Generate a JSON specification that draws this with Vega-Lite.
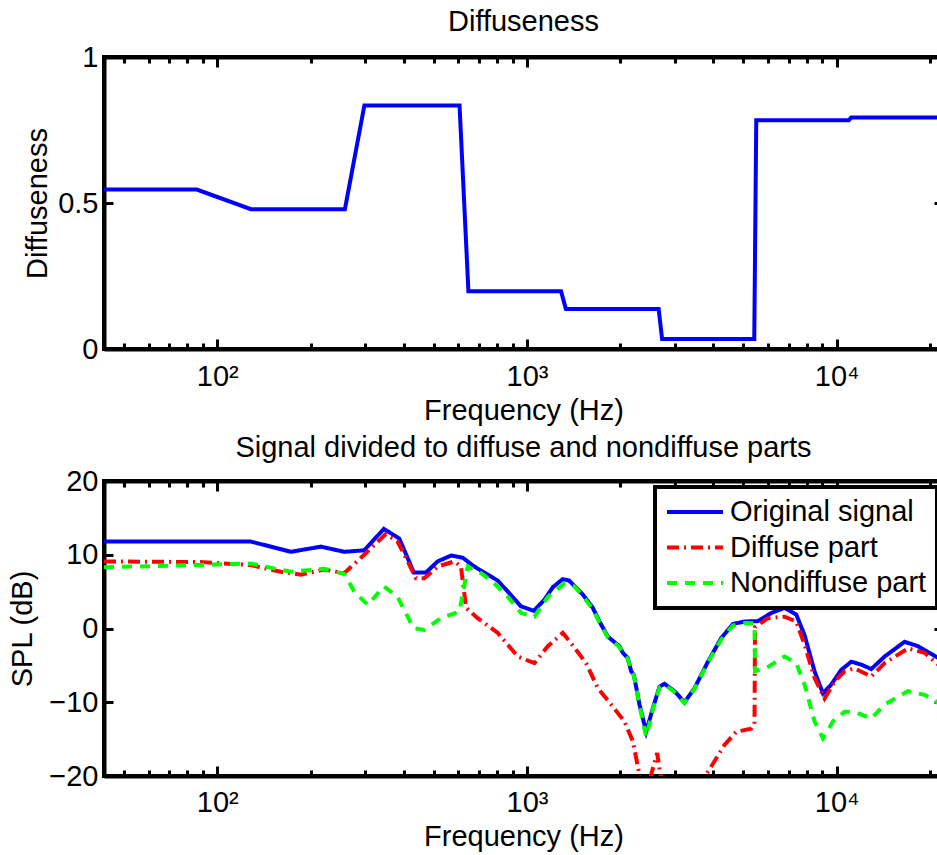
{
  "$schema": "https://vega.github.io/schema/vega-lite/v6.json",
  "background": "white",
  "padding": {"left": 6, "top": 6, "right": 0, "bottom": 0},
  "spacing": 5,
  "config": {
    "font": "Liberation Sans",
    "view": {"stroke": "black", "strokeWidth": 4},
    "axis": {
      "domainColor": "black", "domainWidth": 4, "tickColor": "black", "tickWidth": 3,
      "labelFont": "Liberation Sans", "labelFontSize": 29, "labelColor": "black",
      "titleFont": "Liberation Sans", "titleFontSize": 29, "titleFontWeight": "normal", "titleColor": "black",
      "grid": false, "labelFlush": false, "labelOverlap": false
    },
    "title": {"font": "Liberation Sans", "fontSize": 29, "fontWeight": "normal", "color": "black", "frame": "group", "offset": 6},
    "legend": {"labelFont": "Liberation Sans", "labelFontSize": 29, "labelColor": "black", "strokeWidth": 4}
  },
  "vconcat": [
    {
      "title": {"text": "Diffuseness", "offset": 6},
      "width": 839,
      "height": 292,
      "data": {"values": [
        {"f": 43.07, "d": 0.546}, {"f": 85.9, "d": 0.546}, {"f": 128.4, "d": 0.479}, {"f": 258.3, "d": 0.479},
        {"f": 298.5, "d": 0.834}, {"f": 605.7, "d": 0.834}, {"f": 647, "d": 0.198}, {"f": 1288, "d": 0.198},
        {"f": 1336, "d": 0.137}, {"f": 2662, "d": 0.137}, {"f": 2731, "d": 0.034}, {"f": 5420, "d": 0.034},
        {"f": 5500, "d": 0.783}, {"f": 10950, "d": 0.783}, {"f": 11140, "d": 0.793}, {"f": 22050, "d": 0.793}
      ]},
      "layer": [
        {
          "mark": {"type": "line", "color": "#0000ff", "strokeWidth": 4, "clip": true},
          "encoding": {
            "x": {"field": "f", "type": "quantitative",
              "scale": {"type": "log", "domain": [43.07, 22050], "nice": false},
              "axis": {"orient": "bottom", "title": "Frequency (Hz)",
                "values": [50,60,70,80,90,100,200,300,400,500,600,700,800,900,1000,2000,3000,4000,5000,6000,7000,8000,9000,10000,20000],
                "labelExpr": "datum.value == 100 ? '10²' : datum.value == 1000 ? '10³' : datum.value == 10000 ? '10⁴' : ''",
                "tickSize": {"condition": {"test": "datum.value == 100 || datum.value == 1000 || datum.value == 10000", "value": -10}, "value": -6},
                "labelPadding": 23, "titlePadding": 1}},
            "y": {"field": "d", "type": "quantitative",
              "scale": {"domain": [0, 1], "nice": false},
              "axis": {"orient": "left", "title": "Diffuseness", "values": [0, 0.5, 1], "format": "~g",
                "tickSize": -9, "labelPadding": 15, "titlePadding": 5}}
          }
        },
        {
          "mark": {"type": "line", "opacity": 0, "clip": true},
          "encoding": {
            "x": {"field": "f", "type": "quantitative",
              "scale": {"type": "log", "domain": [43.07, 22050], "nice": false},
              "axis": {"orient": "top", "title": null, "labels": false,
                "values": [50,60,70,80,90,100,200,300,400,500,600,700,800,900,1000,2000,3000,4000,5000,6000,7000,8000,9000,10000,20000],
                "tickSize": {"condition": {"test": "datum.value == 100 || datum.value == 1000 || datum.value == 10000", "value": -10}, "value": -6}}},
            "y": {"field": "d", "type": "quantitative",
              "scale": {"domain": [0, 1], "nice": false},
              "axis": {"orient": "right", "title": null, "labels": false, "values": [0, 0.5, 1], "tickSize": -9}}
          }
        }
      ],
      "resolve": {"axis": {"x": "independent", "y": "independent"}}
    },
    {
      "title": {"text": "Signal divided to diffuse and nondiffuse parts", "offset": 4},
      "width": 839,
      "height": 295,
      "data": {"values": [
        {"s": "Original signal", "f": 43.07, "v": 11.8}, {"s": "Original signal", "f": 128, "v": 11.8}, {"s": "Original signal", "f": 173, "v": 10.4}, {"s": "Original signal", "f": 216, "v": 11.1}, {"s": "Original signal", "f": 257, "v": 10.4}, {"s": "Original signal", "f": 298, "v": 10.6}, {"s": "Original signal", "f": 345, "v": 13.5}, {"s": "Original signal", "f": 387, "v": 12.2}, {"s": "Original signal", "f": 431, "v": 7.6}, {"s": "Original signal", "f": 472, "v": 7.6}, {"s": "Original signal", "f": 515, "v": 9.1}, {"s": "Original signal", "f": 569, "v": 9.9}, {"s": "Original signal", "f": 620, "v": 9.6}, {"s": "Original signal", "f": 676, "v": 8.4}, {"s": "Original signal", "f": 747, "v": 7.3}, {"s": "Original signal", "f": 805, "v": 6.5}, {"s": "Original signal", "f": 867, "v": 5.0}, {"s": "Original signal", "f": 957, "v": 3.0}, {"s": "Original signal", "f": 1052, "v": 2.4}, {"s": "Original signal", "f": 1138, "v": 3.9}, {"s": "Original signal", "f": 1212, "v": 5.6}, {"s": "Original signal", "f": 1305, "v": 6.7}, {"s": "Original signal", "f": 1368, "v": 6.5}, {"s": "Original signal", "f": 1515, "v": 4.6}, {"s": "Original signal", "f": 1632, "v": 2.8}, {"s": "Original signal", "f": 1714, "v": 0.95}, {"s": "Original signal", "f": 1824, "v": -1.1}, {"s": "Original signal", "f": 1989, "v": -2.4}, {"s": "Original signal", "f": 2040, "v": -3.3}, {"s": "Original signal", "f": 2117, "v": -4.0}, {"s": "Original signal", "f": 2170, "v": -5.8}, {"s": "Original signal", "f": 2214, "v": -6.3}, {"s": "Original signal", "f": 2308, "v": -10.3}, {"s": "Original signal", "f": 2426, "v": -14.0}, {"s": "Original signal", "f": 2550, "v": -10.8}, {"s": "Original signal", "f": 2678, "v": -7.9}, {"s": "Original signal", "f": 2780, "v": -7.5}, {"s": "Original signal", "f": 2995, "v": -8.5}, {"s": "Original signal", "f": 3226, "v": -10.0}, {"s": "Original signal", "f": 3475, "v": -8.1}, {"s": "Original signal", "f": 3840, "v": -4.5}, {"s": "Original signal", "f": 4238, "v": -1.3}, {"s": "Original signal", "f": 4623, "v": 0.6}, {"s": "Original signal", "f": 5040, "v": 0.95}, {"s": "Original signal", "f": 5568, "v": 1.0}, {"s": "Original signal", "f": 6149, "v": 2.1}, {"s": "Original signal", "f": 6788, "v": 2.8}, {"s": "Original signal", "f": 7405, "v": 1.9}, {"s": "Original signal", "f": 7876, "v": -0.9}, {"s": "Original signal", "f": 8484, "v": -5.8}, {"s": "Original signal", "f": 9031, "v": -8.8}, {"s": "Original signal", "f": 9605, "v": -7.6}, {"s": "Original signal", "f": 10350, "v": -5.6}, {"s": "Original signal", "f": 11150, "v": -4.5}, {"s": "Original signal", "f": 12010, "v": -4.9}, {"s": "Original signal", "f": 12935, "v": -5.5}, {"s": "Original signal", "f": 14285, "v": -3.8}, {"s": "Original signal", "f": 16575, "v": -1.8}, {"s": "Original signal", "f": 18310, "v": -2.4}, {"s": "Original signal", "f": 21300, "v": -4.0}, {"s": "Original signal", "f": 22050, "v": -4.5},
        {"s": "Diffuse part", "f": 43.07, "v": 9.1}, {"s": "Diffuse part", "f": 90, "v": 9.0}, {"s": "Diffuse part", "f": 128, "v": 8.6}, {"s": "Diffuse part", "f": 160, "v": 7.7}, {"s": "Diffuse part", "f": 186, "v": 7.3}, {"s": "Diffuse part", "f": 221, "v": 8.0}, {"s": "Diffuse part", "f": 257, "v": 7.5}, {"s": "Diffuse part", "f": 298, "v": 10.0}, {"s": "Diffuse part", "f": 350, "v": 12.8}, {"s": "Diffuse part", "f": 382, "v": 11.8}, {"s": "Diffuse part", "f": 412, "v": 9.1}, {"s": "Diffuse part", "f": 438, "v": 6.8}, {"s": "Diffuse part", "f": 466, "v": 6.8}, {"s": "Diffuse part", "f": 515, "v": 8.4}, {"s": "Diffuse part", "f": 583, "v": 9.1}, {"s": "Diffuse part", "f": 612, "v": 8.4}, {"s": "Diffuse part", "f": 636, "v": 2.8}, {"s": "Diffuse part", "f": 693, "v": 1.4}, {"s": "Diffuse part", "f": 805, "v": -0.6}, {"s": "Diffuse part", "f": 867, "v": -2.2}, {"s": "Diffuse part", "f": 934, "v": -3.8}, {"s": "Diffuse part", "f": 1057, "v": -4.7}, {"s": "Diffuse part", "f": 1168, "v": -2.4}, {"s": "Diffuse part", "f": 1305, "v": -0.6}, {"s": "Diffuse part", "f": 1388, "v": -2.0}, {"s": "Diffuse part", "f": 1552, "v": -4.7}, {"s": "Diffuse part", "f": 1694, "v": -8.1}, {"s": "Diffuse part", "f": 1870, "v": -10.3}, {"s": "Diffuse part", "f": 2064, "v": -12.6}, {"s": "Diffuse part", "f": 2197, "v": -15.3}, {"s": "Diffuse part", "f": 2308, "v": -19.8}, {"s": "Diffuse part", "f": 2426, "v": -25}, {"s": "Diffuse part", "f": 2518, "v": -19.8}, {"s": "Diffuse part", "f": 2633, "v": -16.9}, {"s": "Diffuse part", "f": 2698, "v": -19.8}, {"s": "Diffuse part", "f": 2900, "v": -26}, {"s": "Diffuse part", "f": 3300, "v": -30}, {"s": "Diffuse part", "f": 3650, "v": -25}, {"s": "Diffuse part", "f": 3791, "v": -19.8}, {"s": "Diffuse part", "f": 4032, "v": -18.0}, {"s": "Diffuse part", "f": 4343, "v": -15.8}, {"s": "Diffuse part", "f": 4739, "v": -14.0}, {"s": "Diffuse part", "f": 5298, "v": -13.6}, {"s": "Diffuse part", "f": 5429, "v": -13.0}, {"s": "Diffuse part", "f": 5450, "v": 0.2}, {"s": "Diffuse part", "f": 5998, "v": 1.4}, {"s": "Diffuse part", "f": 6788, "v": 1.6}, {"s": "Diffuse part", "f": 7405, "v": 0.95}, {"s": "Diffuse part", "f": 7876, "v": -2.2}, {"s": "Diffuse part", "f": 8484, "v": -6.7}, {"s": "Diffuse part", "f": 9140, "v": -9.5}, {"s": "Diffuse part", "f": 9845, "v": -7.2}, {"s": "Diffuse part", "f": 10605, "v": -5.8}, {"s": "Diffuse part", "f": 11425, "v": -5.4}, {"s": "Diffuse part", "f": 12935, "v": -6.5}, {"s": "Diffuse part", "f": 14285, "v": -4.7}, {"s": "Diffuse part", "f": 16999, "v": -2.7}, {"s": "Diffuse part", "f": 19231, "v": -3.3}, {"s": "Diffuse part", "f": 21300, "v": -4.9}, {"s": "Diffuse part", "f": 22050, "v": -5.3},
        {"s": "Nondiffuse part", "f": 43.07, "v": 8.3}, {"s": "Nondiffuse part", "f": 128, "v": 8.8}, {"s": "Nondiffuse part", "f": 173, "v": 7.7}, {"s": "Nondiffuse part", "f": 221, "v": 8.1}, {"s": "Nondiffuse part", "f": 257, "v": 7.4}, {"s": "Nondiffuse part", "f": 277, "v": 5.0}, {"s": "Nondiffuse part", "f": 306, "v": 3.2}, {"s": "Nondiffuse part", "f": 345, "v": 5.7}, {"s": "Nondiffuse part", "f": 382, "v": 4.3}, {"s": "Nondiffuse part", "f": 430, "v": 0.05}, {"s": "Nondiffuse part", "f": 466, "v": -0.2}, {"s": "Nondiffuse part", "f": 528, "v": 1.4}, {"s": "Nondiffuse part", "f": 605, "v": 2.3}, {"s": "Nondiffuse part", "f": 628, "v": 5.9}, {"s": "Nondiffuse part", "f": 644, "v": 8.4}, {"s": "Nondiffuse part", "f": 711, "v": 7.5}, {"s": "Nondiffuse part", "f": 785, "v": 6.1}, {"s": "Nondiffuse part", "f": 867, "v": 4.3}, {"s": "Nondiffuse part", "f": 957, "v": 2.1}, {"s": "Nondiffuse part", "f": 1057, "v": 1.6}, {"s": "Nondiffuse part", "f": 1168, "v": 4.3}, {"s": "Nondiffuse part", "f": 1321, "v": 6.1}, {"s": "Nondiffuse part", "f": 1423, "v": 5.7}, {"s": "Nondiffuse part", "f": 1515, "v": 4.4}, {"s": "Nondiffuse part", "f": 1632, "v": 2.6}, {"s": "Nondiffuse part", "f": 1714, "v": 0.8}, {"s": "Nondiffuse part", "f": 1824, "v": -1.2}, {"s": "Nondiffuse part", "f": 1989, "v": -2.5}, {"s": "Nondiffuse part", "f": 2040, "v": -3.4}, {"s": "Nondiffuse part", "f": 2117, "v": -4.1}, {"s": "Nondiffuse part", "f": 2170, "v": -5.9}, {"s": "Nondiffuse part", "f": 2214, "v": -6.4}, {"s": "Nondiffuse part", "f": 2308, "v": -10.4}, {"s": "Nondiffuse part", "f": 2426, "v": -14.7}, {"s": "Nondiffuse part", "f": 2550, "v": -11.0}, {"s": "Nondiffuse part", "f": 2678, "v": -8.0}, {"s": "Nondiffuse part", "f": 2780, "v": -7.6}, {"s": "Nondiffuse part", "f": 2995, "v": -8.6}, {"s": "Nondiffuse part", "f": 3226, "v": -10.1}, {"s": "Nondiffuse part", "f": 3475, "v": -8.2}, {"s": "Nondiffuse part", "f": 3840, "v": -4.6}, {"s": "Nondiffuse part", "f": 4238, "v": -1.5}, {"s": "Nondiffuse part", "f": 4623, "v": 0.4}, {"s": "Nondiffuse part", "f": 5040, "v": 0.75}, {"s": "Nondiffuse part", "f": 5429, "v": 0.7}, {"s": "Nondiffuse part", "f": 5450, "v": -5.8}, {"s": "Nondiffuse part", "f": 5998, "v": -5.2}, {"s": "Nondiffuse part", "f": 6788, "v": -3.8}, {"s": "Nondiffuse part", "f": 7405, "v": -4.7}, {"s": "Nondiffuse part", "f": 7876, "v": -7.6}, {"s": "Nondiffuse part", "f": 8484, "v": -12.6}, {"s": "Nondiffuse part", "f": 9031, "v": -14.9}, {"s": "Nondiffuse part", "f": 9727, "v": -12.6}, {"s": "Nondiffuse part", "f": 10605, "v": -11.3}, {"s": "Nondiffuse part", "f": 11425, "v": -11.3}, {"s": "Nondiffuse part", "f": 12935, "v": -12.2}, {"s": "Nondiffuse part", "f": 14285, "v": -10.3}, {"s": "Nondiffuse part", "f": 16999, "v": -8.5}, {"s": "Nondiffuse part", "f": 19231, "v": -9.0}, {"s": "Nondiffuse part", "f": 21300, "v": -10.1}, {"s": "Nondiffuse part", "f": 22050, "v": -10.5}
      ]},
      "layer": [
        {
          "mark": {"type": "line", "strokeWidth": 4, "clip": true},
          "encoding": {
            "x": {"field": "f", "type": "quantitative",
              "scale": {"type": "log", "domain": [43.07, 22050], "nice": false},
              "axis": {"orient": "bottom", "title": "Frequency (Hz)",
                "values": [50,60,70,80,90,100,200,300,400,500,600,700,800,900,1000,2000,3000,4000,5000,6000,7000,8000,9000,10000,20000],
                "labelExpr": "datum.value == 100 ? '10²' : datum.value == 1000 ? '10³' : datum.value == 10000 ? '10⁴' : ''",
                "tickSize": {"condition": {"test": "datum.value == 100 || datum.value == 1000 || datum.value == 10000", "value": -10}, "value": -6},
                "labelPadding": 22, "titlePadding": 1}},
            "y": {"field": "v", "type": "quantitative",
              "scale": {"domain": [-20, 20], "nice": false},
              "axis": {"orient": "left", "title": "SPL (dB)", "values": [-20, -10, 0, 10, 20], "format": "d",
                "tickSize": -9, "labelPadding": 15, "titlePadding": 11}},
            "color": {"field": "s", "type": "nominal", "title": null,
              "scale": {"domain": ["Original signal", "Diffuse part", "Nondiffuse part"], "range": ["#0000ff", "#ff0000", "#00ff00"]},
              "legend": {"orient": "none", "legendX": 551, "legendY": 430, "symbolType": "stroke", "symbolSize": 3136, "symbolStrokeWidth": 4,
                "strokeColor": "black", "fillColor": "white", "padding": 10, "labelLimit": 400, "labelOffset": 5, "rowPadding": 5.5, "clipHeight": 30}},
            "strokeDash": {"field": "s", "type": "nominal", "title": null,
              "scale": {"domain": ["Original signal", "Diffuse part", "Nondiffuse part"], "range": [[1, 0], [12, 5, 2, 5], [10, 8]]}}
          }
        },
        {
          "mark": {"type": "line", "opacity": 0, "clip": true},
          "encoding": {
            "x": {"field": "f", "type": "quantitative",
              "scale": {"type": "log", "domain": [43.07, 22050], "nice": false},
              "axis": {"orient": "top", "title": null, "labels": false,
                "values": [50,60,70,80,90,100,200,300,400,500,600,700,800,900,1000,2000,3000,4000,5000,6000,7000,8000,9000,10000,20000],
                "tickSize": {"condition": {"test": "datum.value == 100 || datum.value == 1000 || datum.value == 10000", "value": -10}, "value": -6}}},
            "y": {"field": "v", "type": "quantitative",
              "scale": {"domain": [-20, 20], "nice": false},
              "axis": {"orient": "right", "title": null, "labels": false, "values": [-20, -10, 0, 10, 20], "tickSize": -9}},
            "detail": {"field": "s", "type": "nominal"}
          }
        }
      ],
      "resolve": {"axis": {"x": "independent", "y": "independent"}}
    }
  ]
}
